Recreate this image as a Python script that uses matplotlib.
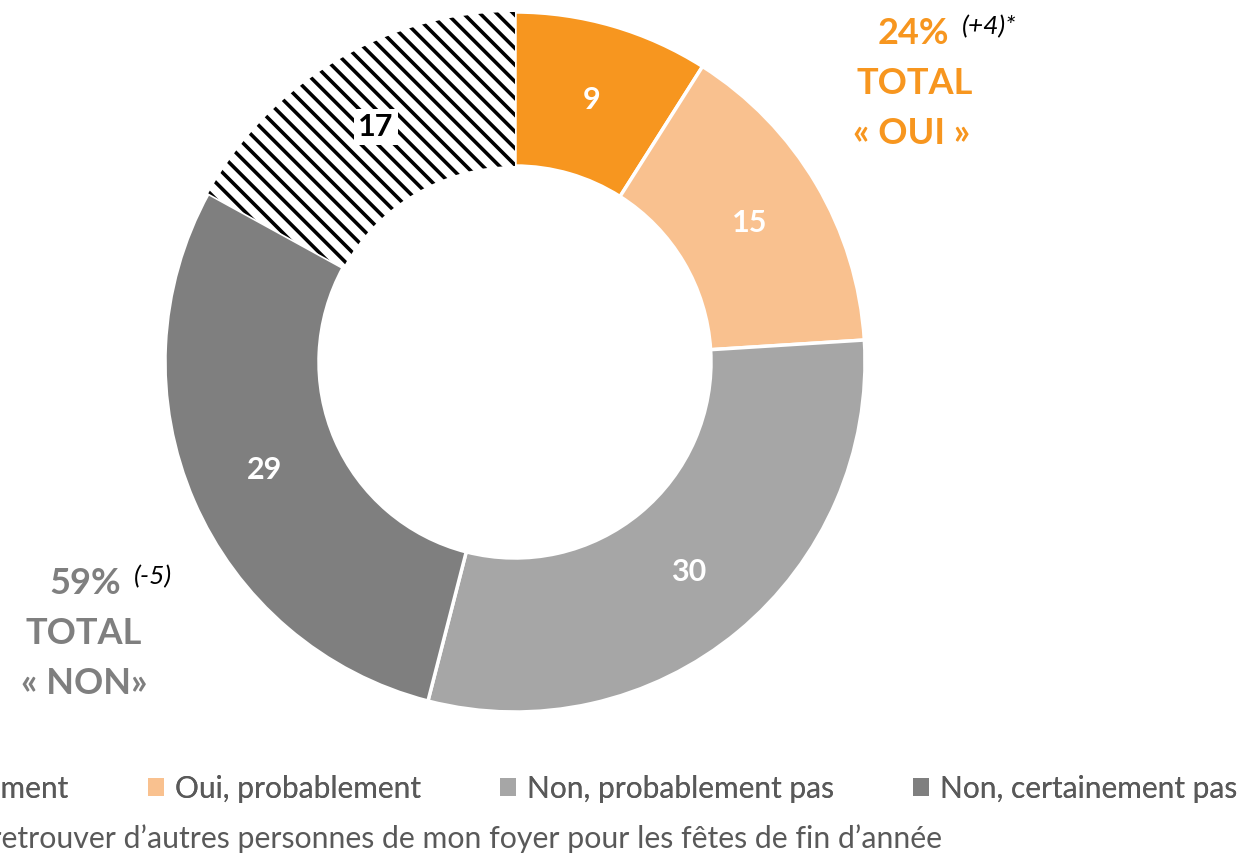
import numpy as np
import matplotlib.pyplot as plt
from matplotlib.patches import Patch

plt.rcParams['font.family'] = ['Lato', 'DejaVu Sans']
plt.rcParams['hatch.linewidth'] = 2.6

# données
labels = ['Oui, certainement', 'Oui, probablement', 'Non, probablement pas',
          'Non, certainement pas',
          "Non concerné, je ne vais pas retrouver d\u2019autres personnes de mon foyer pour les fêtes de fin d\u2019année"]
values = [9, 15, 30, 29, 17]
colors = ['#F7961F', '#F9C18F', '#A6A6A6', '#7F7F7F', 'white']
hatches = [None, None, None, None, '\\\\']
label_colors = ['white', 'white', 'white', 'white', 'black']

fig = plt.figure(figsize=(12.39, 8.65), dpi=100)
ax = fig.add_axes([165 / 1239, 1 - 712 / 865, 700 / 1239, 700 / 865])

wedges, texts = ax.pie(values, colors=colors, startangle=90, counterclock=False,
                       radius=1, wedgeprops=dict(width=0.44, edgecolor='white', linewidth=2.5))
for w, h in zip(wedges, hatches):
    if h:
        w.set_hatch(h)
        w.set_edgecolor('black')
        w.set_linewidth(0)

# étiquettes de valeurs
for w, v, c in zip(wedges, values, label_colors):
    ang = np.deg2rad((w.theta1 + w.theta2) / 2)
    x, y = 0.78 * np.cos(ang), 0.78 * np.sin(ang)
    bbox = dict(facecolor='white', edgecolor='none', pad=3) if c == 'black' else None
    ax.text(x, y, str(v), ha='center', va='center', fontsize=22, fontweight='bold',
            color=c, bbox=bbox)
ax.set_xlim(-1, 1)
ax.set_ylim(-1, 1)
ax.set_aspect('equal')
ax.axis('off')

# totaux
orange = '#F7961F'
gray = '#7F7F7F'
fs = 26
fig.text(913 / 1239, 1 - 33 / 865, '24%', ha='center', va='center', fontsize=fs,
         fontweight='bold', color=orange)
fig.text(962 / 1239, 1 - 27 / 865, '(+4)*', ha='left', va='center', fontsize=19,
         fontstyle='italic', color='black')
fig.text(915 / 1239, 1 - 83 / 865, 'TOTAL', ha='center', va='center', fontsize=fs,
         fontweight='bold', color=orange)
fig.text(912 / 1239, 1 - 133 / 865, '\u00ab OUI \u00bb', ha='center', va='center', fontsize=fs,
         fontweight='bold', color=orange)

fig.text(85 / 1239, 1 - 583 / 865, '59%', ha='center', va='center', fontsize=fs,
         fontweight='bold', color=gray)
fig.text(134 / 1239, 1 - 577 / 865, '(-5)', ha='left', va='center', fontsize=19,
         fontstyle='italic', color='black')
fig.text(84 / 1239, 1 - 633 / 865, 'TOTAL', ha='center', va='center', fontsize=fs,
         fontweight='bold', color=gray)
fig.text(84 / 1239, 1 - 683 / 865, '\u00ab NON\u00bb', ha='center', va='center', fontsize=fs,
         fontweight='bold', color=gray)

# légende
handles = [Patch(facecolor=c, edgecolor='none') for c in colors[:4]]
leg1 = fig.legend(handles, labels[:4], loc='center right', ncol=4,
                  bbox_to_anchor=(1237 / 1239, 1 - 789 / 865), frameon=False,
                  fontsize=21.5, handlelength=0.55, handleheight=0.55, handletextpad=0.35,
                  columnspacing=2.65, borderpad=0, borderaxespad=0, labelcolor='#595959')
hp = Patch(facecolor='white', edgecolor='black', hatch='\\\\', linewidth=0)
leg2 = fig.legend([hp], labels[4:], loc='center right',
                  bbox_to_anchor=(942 / 1239, 1 - 839 / 865), frameon=False,
                  fontsize=21.8, handlelength=0.55, handleheight=0.55, handletextpad=0.35,
                  borderpad=0, borderaxespad=0, labelcolor='#595959')
fig.add_artist(leg1)

fig.savefig('out.png', dpi=100)
